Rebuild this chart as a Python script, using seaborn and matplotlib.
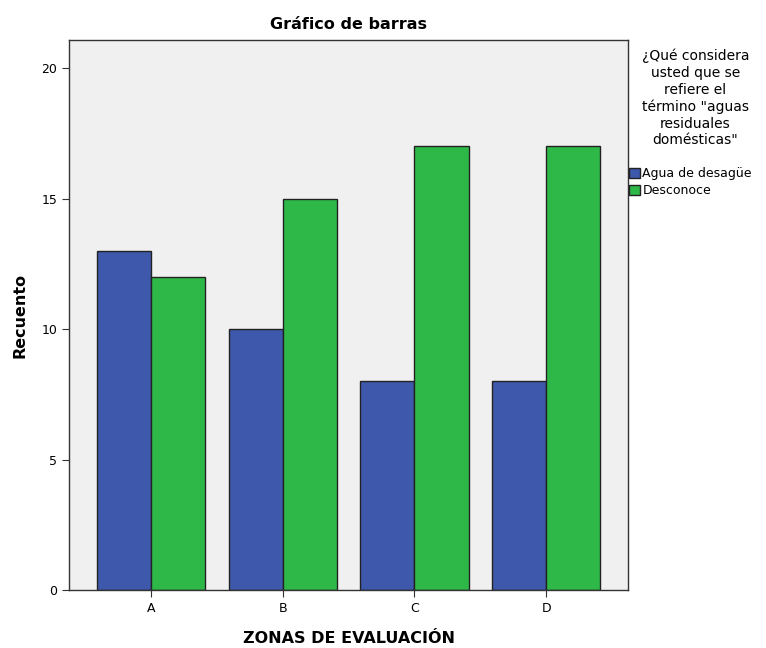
import pandas as pd
import matplotlib
matplotlib.use('Agg')
import matplotlib.pyplot as plt
import seaborn as sns
from matplotlib.patches import Patch

zonas = ['A', 'B', 'C', 'D']
respuestas = ['Agua de desagüe', 'Desconoce']
agua = [13, 10, 8, 8]
desconoce = [12, 15, 17, 17]

df = pd.DataFrame({
    'Zona': zonas * 2,
    'Respuesta': [respuestas[0]] * 4 + [respuestas[1]] * 4,
    'Recuento': agua + desconoce,
})

colores = {'Agua de desagüe': '#3E58AC', 'Desconoce': '#2EB848'}

fig = plt.figure(figsize=(7.66, 6.48), dpi=100)
ax = fig.add_axes([0.090, 0.0895, 0.730, 0.8485])
sns.barplot(data=df, x='Zona', y='Recuento', hue='Respuesta', order=zonas,
            hue_order=respuestas, palette=colores, width=0.82, saturation=1,
            edgecolor='#222222', linewidth=1, ax=ax, legend=False)

ax.set_facecolor('#F0F0F0')
ax.set_xlim(-0.62, 3.62)
ax.set_ylim(0, 21.07)
ax.set_yticks([0, 5, 10, 15, 20])
for s in ax.spines.values():
    s.set_color('#333333')
    s.set_linewidth(1)
ax.tick_params(labelsize=9, color='#333333', length=5)

ax.set_title('Gráfico de barras', fontsize=11.5, fontweight='bold', pad=8)
ax.set_xlabel('ZONAS DE EVALUACIÓN', fontsize=11.5, fontweight='bold', labelpad=12)
ax.set_ylabel('Recuento', fontsize=11.5, fontweight='bold', labelpad=10)

fig.text(0.908, 0.925, '¿Qué considera\nusted que se\nrefiere el\ntérmino "aguas\nresiduales\ndomésticas"',
         ha='center', va='top', fontsize=10, linespacing=1.25)
handles = [Patch(facecolor=colores[r], edgecolor='#222222', label=r) for r in respuestas]
fig.legend(handles=handles, loc='upper left', bbox_to_anchor=(0.814, 0.75),
           frameon=False, fontsize=9, handlelength=0.9, handleheight=0.9,
           handletextpad=0.2, labelspacing=0.35, borderaxespad=0)

fig.savefig('out.png', dpi=100)
